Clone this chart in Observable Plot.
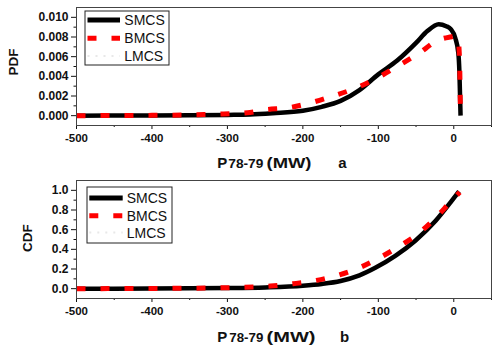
<!DOCTYPE html>
<html><head><meta charset="utf-8">
<script src="https://cdn.jsdelivr.net/npm/d3@7"></script>
<script src="https://cdn.jsdelivr.net/npm/@observablehq/plot@0.6"></script>
<style>
html,body{margin:0;padding:0;background:#fff;}
#chart{width:501px;height:349px;position:relative;overflow:hidden;background:#fff;}
#chart svg{display:block;}
</style></head><body><div id="chart"></div>
<script>
// ---- tick values ----
const xMajorTicks = [-500, -400, -300, -200, -100, 0];
const xMinorTicks = [-450, -350, -250, -150, -50, 50];
const pdfMajorTicks = [0, 0.002, 0.004, 0.006, 0.008, 0.010];
const pdfMinorTicks = [0.001, 0.003, 0.005, 0.007, 0.009];
const cdfMajorTicks = [0, 0.2, 0.4, 0.6, 0.8, 1.0];
const cdfMinorTicks = [0.1, 0.3, 0.5, 0.7, 0.9];

// ---- series names ----
const seriesNames = ["SMCS", "BMCS", "LMCS"];

// ---- PDF, SMCS ----
const pdfSMCSx = [-500, -400, -300, -270, -240, -200, -175, -150, -125, -100, -75, -50, -35, -20, -10, -4, 2, 6, 7.5, 9];
const pdfSMCSy = [0, 0.00002, 0.00008, 0.00012, 0.00025, 0.0005, 0.0009, 0.0015, 0.0026, 0.0042, 0.0056, 0.0074, 0.0086, 0.0093, 0.0091, 0.0088, 0.0079, 0.0064, 0.0044, 0];
// ---- PDF, BMCS ----
const pdfBMCSx = [-500, -400, -340, -305, -270, -250, -220, -190, -160, -130, -100, -73, -47, -20, -5, 3, 5.5, 7, 8, 8.5, 8.8];
const pdfBMCSy = [0, 0.00003, 0.0001, 0.00017, 0.00033, 0.0006, 0.0008, 0.0013, 0.0020, 0.0028, 0.0039, 0.0051, 0.0063, 0.0077, 0.0080, 0.0081, 0.0078, 0.0068, 0.0045, 0.0020, 0.0005];
// ---- CDF, SMCS ----
const cdfSMCSx = [-500, -400, -300, -250, -200, -175, -150, -125, -104, -77, -51, -24, -4, 7];
const cdfSMCSy = [0, 0.001, 0.006, 0.013, 0.03, 0.048, 0.078, 0.135, 0.212, 0.336, 0.488, 0.69, 0.88, 0.99];
// ---- CDF, BMCS ----
const cdfBMCSx = [-500, -400, -300, -243, -213, -182, -152, -123, -97, -71, -47, -24, -3.5, 8];
const cdfBMCSy = [0, 0.002, 0.01, 0.026, 0.05, 0.084, 0.14, 0.22, 0.32, 0.437, 0.56, 0.72, 0.89, 0.98];

const FONT = "'Liberation Sans', Arial, Helvetica, sans-serif";

function panel({height, marginTop, marginBottom, yDomain, yMajor, yMinor, yFmt, sx, sy, bx, by}) {
  return Plot.plot({
    width: 501, height,
    marginLeft: 76, marginRight: 10, marginTop, marginBottom,
    style: {fontFamily: FONT, fontWeight: "bold", background: "#fff", overflow: "visible", color: "#111"},
    x: {domain: [-500, 50]},
    y: {domain: yDomain},
    marks: [
      Plot.axisX({ticks: xMajorTicks, tickSize: 4, tickPadding: 4, tickFormat: d => String(d), label: null, fontSize: 11.5}),
      Plot.axisX({ticks: xMinorTicks, tickSize: 2, tickFormat: () => "", label: null}),
      Plot.axisY({ticks: yMajor, tickSize: 5, tickPadding: 3, tickFormat: yFmt, label: null, fontSize: 12}),
      Plot.axisY({ticks: yMinor, tickSize: 2.5, tickFormat: () => "", label: null}),
      Plot.line(sy, {x: sx, y: sy, stroke: "#000", strokeWidth: 4.5, strokeLinecap: "butt", curve: "monotone-x"}),
      Plot.line(by, {x: bx, y: by, stroke: "#ff0000", strokeWidth: 5, strokeDasharray: "9,15", strokeLinecap: "butt", curve: "monotone-x"}),
      Plot.frame({stroke: "#444", strokeWidth: 1})
    ]
  });
}

function legend(svg, {x0, y0, w, h, rows, lx0, lx1, tx}) {
  const g = d3.select(svg).append("g").attr("font-family", FONT)
    .attr("font-weight", "normal").attr("text-anchor", "start");
  g.append("rect").attr("x", x0).attr("y", y0).attr("width", w).attr("height", h)
    .attr("fill", "#fff").attr("stroke", "#222").attr("stroke-width", 1);
  const styles = [
    {stroke: "#000", width: 5, dash: null},
    {stroke: "#ff0000", width: 5, dash: "9,15"},
    {stroke: "#e8e8e8", width: 2, dash: "2,6"}
  ];
  seriesNames.forEach((name, i) => {
    const s = styles[i];
    const l = g.append("line").attr("x1", lx0).attr("x2", lx1).attr("y1", rows[i]).attr("y2", rows[i])
      .attr("stroke", s.stroke).attr("stroke-width", s.width);
    if (s.dash) l.attr("stroke-dasharray", s.dash);
    g.append("text").attr("x", tx).attr("y", rows[i]).attr("dy", "0.36em")
      .attr("text-anchor", "start").attr("font-size", 14).attr("fill", "#111").text(name);
  });
}

function xLabel(svg, base, parts) {
  const g = d3.select(svg).append("g").attr("font-family", FONT).attr("font-weight", "bold")
    .attr("fill", "#111").attr("text-anchor", "start");
  g.append("text").attr("x", 217.3).attr("y", base).attr("font-size", 15).text("P");
  g.append("text").attr("x", parts.sub).attr("y", base).attr("font-size", 12.5)
    .attr("textLength", parts.subLen).attr("lengthAdjust", "spacingAndGlyphs").text("78-79");
  g.append("text").attr("x", 266.5).attr("y", base).attr("font-size", 15.5)
    .attr("textLength", parts.mwLen).attr("lengthAdjust", "spacingAndGlyphs").text("(MW)");
  g.append("text").attr("x", parts.letterX).attr("y", base).attr("font-size", 15).text(parts.letter);
}

function yLabel(svg, x, y, txt) {
  d3.select(svg).append("text").attr("transform", `translate(${x},${y}) rotate(-90)`)
    .attr("text-anchor", "middle").attr("dy", "0.36em")
    .attr("font-family", FONT).attr("font-weight", "bold").attr("font-size", 13.5).attr("fill", "#111").text(txt);
}

const pdfPanel = panel({height: 175, marginTop: 7, marginBottom: 50, yDomain: [-0.001, 0.011],
  yMajor: pdfMajorTicks, yMinor: pdfMinorTicks, yFmt: d => d.toFixed(3),
  sx: pdfSMCSx, sy: pdfSMCSy, bx: pdfBMCSx, by: pdfBMCSy});
legend(pdfPanel, {x0: 85, y0: 11, w: 84, h: 54, rows: [20, 38.3, 56], lx0: 87.5, lx1: 120, tx: 124.3});
xLabel(pdfPanel, 168, {sub: 228.3, subLen: 35, mwLen: 45, letter: "a", letterX: 338.3});
yLabel(pdfPanel, 13, 62, "PDF");

const cdfPanel = panel({height: 174, marginTop: 5, marginBottom: 51, yDomain: [-0.1, 1.1],
  yMajor: cdfMajorTicks, yMinor: cdfMinorTicks, yFmt: d => d.toFixed(1),
  sx: cdfSMCSx, sy: cdfSMCSy, bx: cdfBMCSx, by: cdfBMCSy});
legend(cdfPanel, {x0: 87, y0: 12, w: 85, h: 56, rows: [23, 40.7, 57.5], lx0: 89.3, lx1: 122.7, tx: 126.7});
xLabel(cdfPanel, 166.7, {sub: 229.3, subLen: 34, mwLen: 49, letter: "b", letterX: 340});
yLabel(cdfPanel, 27, 63, "CDF");

document.getElementById("chart").append(pdfPanel, cdfPanel);
</script></body></html>
